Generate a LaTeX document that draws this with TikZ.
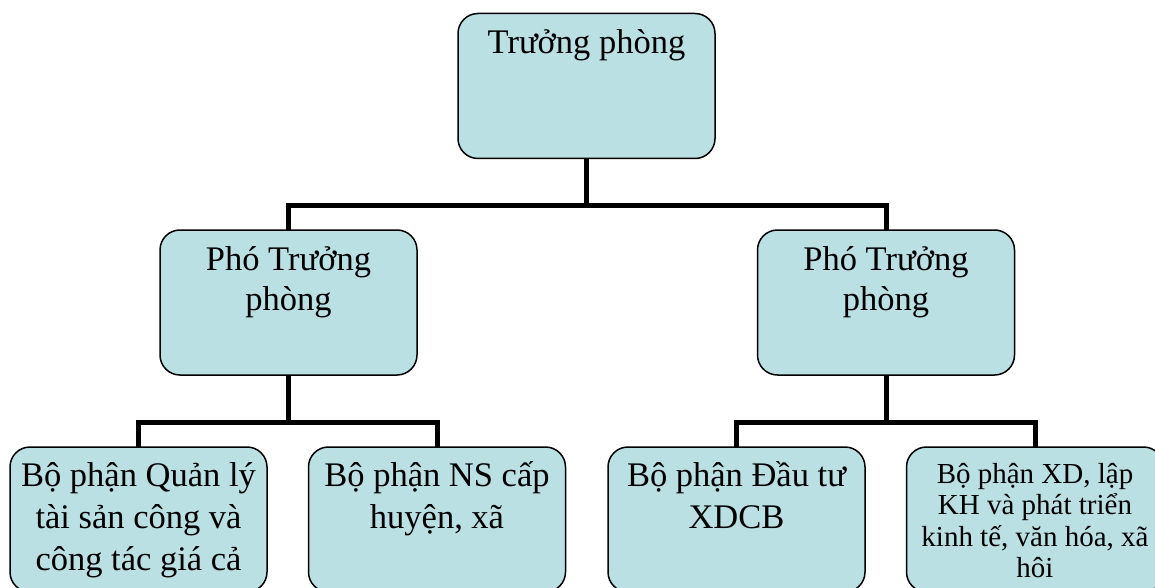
\documentclass[tikz,border=0pt]{standalone}
\usepackage{fontspec}
\setmainfont{Liberation Serif}
\definecolor{boxfill}{RGB}{187,224,227}
\newcommand{\boxtxt}[3]{\parbox[c][145pt][t]{257pt}{\centering #1\rule{0pt}{#2}#3\par}}
\tikzset{
  orgbox/.style={draw=black, line width=1.5pt, fill=boxfill, rounded corners=20pt, inner sep=0pt, outer sep=0pt},
  conn/.style={draw=black, line width=5pt, line join=miter}
}
\begin{document}
\begin{tikzpicture}[x=1pt,y=-1pt]
\useasboundingbox (0,0) rectangle (1155,588);
\clip (0,0) rectangle (1155,588);
% nodes
\node[orgbox] (top) at (586.5,86) {\boxtxt{\fontsize{34.5}{41}\selectfont}{40pt}{Trưởng phòng}};
\node[orgbox] (pl) at (288.5,302.5) {\boxtxt{\fontsize{34.5}{40}\selectfont}{40pt}{Phó Trưởng\\phòng}};
\node[orgbox] (pr) at (886,302.5) {\boxtxt{\fontsize{34.5}{40}\selectfont}{40pt}{Phó Trưởng\\phòng}};
\node[orgbox] (b1) at (138.5,519.5) {\boxtxt{\fontsize{34.5}{42}\selectfont}{39pt}{Bộ phận Quản lý\\tài sản công và\\công tác giá cả}};
\node[orgbox] (b2) at (437,519.5) {\boxtxt{\fontsize{34.5}{42}\selectfont}{39pt}{Bộ phận NS cấp\\huyện, xã}};
\node[orgbox] (b3) at (736.5,519.5) {\boxtxt{\fontsize{34.5}{42}\selectfont}{39pt}{Bộ phận Đầu tư\\XDCB}};
\node[orgbox] (b4) at (1035,519.5) {\boxtxt{\fontsize{29}{31.5}\selectfont}{36pt}{Bộ phận XD, lập\\KH và phát triển\\kinh tế, văn hóa, xã\\hôi}};
% junctions
\coordinate (j1) at (586.5,205);
\coordinate (j2) at (288.5,422);
\coordinate (j3) at (886,422);
% connectors
\draw[conn] (top.south) -- (j1);
\draw[conn] (pl.north) |- (j1) -| (pr.north);
\draw[conn] (pl.south) -- (j2);
\draw[conn] (b1.north) |- (j2) -| (b2.north);
\draw[conn] (pr.south) -- (j3);
\draw[conn] (b3.north) |- (j3) -| (b4.north);
\end{tikzpicture}
\end{document}
